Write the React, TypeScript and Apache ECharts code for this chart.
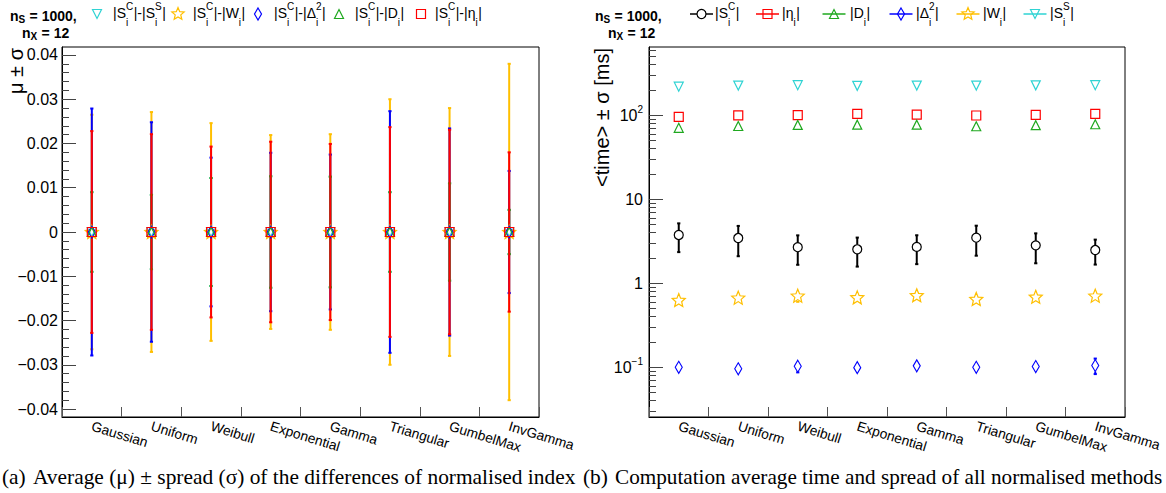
import React, { useEffect, useRef } from "react";
import * as echarts from "echarts";

// ---------------- data ----------------
const categories = ["Gaussian", "Uniform", "Weibull", "Exponential", "Gamma", "Triangular", "GumbelMax", "InvGamma"];

// (a) mean and spread of the differences of normalised index
const meanSS = [0, 0, 0, 0, 0, 0, 0, 0];
const sigmaSS = [0.0090, 0.0084, 0.0122, 0.0126, 0.0125, 0.0090, 0.0110, 0.0050];
const meanW = [0, 0, 0, 0, 0, 0, 0, 0];
const sigmaW = [0.0265, 0.0271, 0.0246, 0.0219, 0.0221, 0.0300, 0.0280, 0.0380];
const meanD2 = [0, 0, 0, 0, 0, 0, 0, 0];
const sigmaD2 = [0.0279, 0.0248, 0.0168, 0.0179, 0.0175, 0.0273, 0.0234, 0.0138];
const meanD = [0, 0, 0, 0, 0, 0, 0, 0];
const sigmaD = [0.0090, 0.0084, 0.0122, 0.0126, 0.0125, 0.0090, 0.0110, 0.0050];
const meanEta = [0, 0, 0, 0, 0, 0, 0, 0];
const sigmaEta = [0.0228, 0.0221, 0.0193, 0.0204, 0.0199, 0.0237, 0.0231, 0.0180];

// (b) computation time [ms]
const timeSC = [3.76, 3.46, 2.69, 2.54, 2.71, 3.49, 2.83, 2.49];
const timeSCsig = [1.41, 1.36, 1.03, 0.96, 1.02, 1.36, 1.10, 0.82];
const timeEta = [95.5, 100, 100.7, 104, 101.7, 99.4, 101.3, 104];
const timeEtaSig = [3, 3, 3, 3, 3, 3, 3, 3];
const timeD = [71, 74.6, 76.8, 77.3, 77.3, 74, 76.3, 78.2];
const timeDSig = [2, 2, 2, 2, 2, 2, 2, 2];
const timeD2 = [0.100, 0.096, 0.103, 0.099, 0.104, 0.100, 0.102, 0.105];
const timeD2Sig = [0.005, 0.004, 0.016, 0.005, 0.014, 0.004, 0.006, 0.022];
const timeW = [0.632, 0.674, 0.712, 0.68, 0.72, 0.65, 0.69, 0.712];
const timeWSig = [0.05, 0.05, 0.11, 0.05, 0.10, 0.05, 0.06, 0.08];
const timeSS = [219, 226, 228, 224, 226, 226, 227, 228];
const timeSSSig = [4, 4, 4, 4, 4, 4, 4, 4];

const leftTickLabels = [-0.04, -0.03, -0.02, -0.01, 0, 0.01, 0.02, 0.03, 0.04];
const rightTickLabels = [0.1, 1, 10, 100];

// ---------------- styling ----------------
const SANS = "Liberation Sans";
const SERIF = "Liberation Serif";
const C_CYAN = "#2fd3d3";
const C_YEL = "#ffbf00";
const C_BLUE = "#0000ff";
const C_GREEN = "#1fa81f";
const C_RED = "#ff0000";
const C_BLACK = "#000000";

const STAR_R = 0.45;
function starPoints(cx: number, cy: number, r: number): number[][] {
  const pts: number[][] = [];
  for (let k = 0; k < 10; k++) {
    const rr = k % 2 ? r * STAR_R : r;
    const a = ((-90 + 36 * k) * Math.PI) / 180;
    pts.push([cx + rr * Math.cos(a), cy + rr * Math.sin(a)]);
  }
  return pts;
}
const starSymbol =
  "path://M" + starPoints(10, 10, 10).map((p) => p[0].toFixed(3) + " " + p[1].toFixed(3)).join(" L") + " Z";

let measureCtx: CanvasRenderingContext2D | null = null;
function tw(t: string, size: number, bold = false): number {
  if (!measureCtx) measureCtx = document.createElement("canvas").getContext("2d");
  measureCtx!.font = `${bold ? "bold " : ""}${size}px "${SANS}"`;
  return measureCtx!.measureText(t).width;
}

function txt(x: number, y: number, t: string, size: number, bold = false, family = SANS): any {
  return {
    type: "text",
    x,
    y,
    silent: true,
    style: { text: t, fontSize: size, fontFamily: family, fontWeight: bold ? "bold" : "normal", fill: "#000", align: "left", verticalAlign: "middle" },
  };
}

type Part = { t?: string; sub?: string; sup?: string; subDy?: number };
function richLabel(x0: number, y: number, parts: Part[], fs: number, bold = false): any[] {
  const els: any[] = [];
  let x = x0;
  const ss = 10;
  for (const p of parts) {
    if (p.t !== undefined) {
      els.push(txt(x, y, p.t, fs, bold));
      x += tw(p.t, fs, bold);
    } else {
      let w = 0;
      if (p.sup) {
        els.push(txt(x, y - 6.5, p.sup, ss, bold));
        w = Math.max(w, tw(p.sup, ss, bold));
      }
      if (p.sub) {
        els.push(txt(x, y + (p.subDy ?? 10), p.sub, ss, bold));
        w = Math.max(w, tw(p.sub, ss, bold));
      }
      x += w + 0.5;
    }
  }
  return els;
}

function markerShape(kind: string, cx: number, cy: number, color: string): any {
  const style = { fill: "none", stroke: color, lineWidth: 1.2 };
  const s = 4.5;
  switch (kind) {
    case "triDown":
      return { type: "polygon", silent: true, shape: { points: [[cx - s, cy - s], [cx + s, cy - s], [cx, cy + s]] }, style };
    case "triUp":
      return { type: "polygon", silent: true, shape: { points: [[cx - s, cy + s], [cx + s, cy + s], [cx, cy - s]] }, style };
    case "diamond":
      return { type: "polygon", silent: true, shape: { points: [[cx, cy - 6], [cx + 3.5, cy], [cx, cy + 6], [cx - 3.5, cy]] }, style };
    case "square":
      return { type: "rect", silent: true, shape: { x: cx - s, y: cy - s, width: 2 * s, height: 2 * s }, style };
    case "circle":
      return { type: "circle", silent: true, shape: { cx, cy, r: s }, style: { fill: "#fff", stroke: color, lineWidth: 1.2 } };
    case "star":
      return { type: "polygon", silent: true, shape: { points: starPoints(cx, cy, 6.5) }, style };
  }
  return null;
}

function errRender(color: string, gap: number, lw: number) {
  return (params: any, api: any) => {
    const i = api.value(0);
    const c = api.coord([i, api.value(1)]);
    const hi = api.coord([i, api.value(2)]);
    const lo = api.coord([i, api.value(3)]);
    const kids: any[] = [];
    const st = { stroke: color, lineWidth: lw };
    if (c[1] - gap > hi[1]) {
      kids.push({ type: "line", shape: { x1: c[0], y1: c[1] - gap, x2: c[0], y2: hi[1] }, style: st });
      kids.push({ type: "rect", shape: { x: c[0] - 1.6, y: hi[1] - 1, width: 3.2, height: 2 }, style: { fill: color } });
    }
    if (c[1] + gap < lo[1]) {
      kids.push({ type: "line", shape: { x1: c[0], y1: c[1] + gap, x2: c[0], y2: lo[1] }, style: st });
      kids.push({ type: "rect", shape: { x: c[0] - 1.6, y: lo[1] - 1, width: 3.2, height: 2 }, style: { fill: color } });
    }
    return { type: "group", children: kids };
  };
}

type SDef = { name: string; mean: number[]; sig: number[]; color: string; symbol: string; size: any; rotate?: number; gap: number };

function buildSeries(defs: SDef[], xi: number, yi: number, logY: boolean): any[] {
  const out: any[] = [];
  const f = (v: number) => (logY ? Math.log10(v) : v);
  for (const d of defs) {
    out.push({
      type: "custom",
      name: d.name + "_err",
      xAxisIndex: xi,
      yAxisIndex: yi,
      silent: true,
      clip: false,
      renderItem: errRender(d.color, d.gap, 2),
      encode: { x: 0, y: [1, 2, 3] },
      data: d.mean.map((m, i) => [i, f(m), f(m + d.sig[i]), f(m - d.sig[i])]),
    });
    out.push({
      type: "scatter",
      name: d.name,
      xAxisIndex: xi,
      yAxisIndex: yi,
      silent: true,
      symbol: d.symbol,
      symbolSize: d.size,
      symbolRotate: d.rotate ?? 0,
      itemStyle: { color: d.symbol === "circle" ? "#ffffff" : "rgba(0,0,0,0)", borderColor: d.color, borderWidth: 1.2, opacity: 1 },
      data: d.mean.map((m, i) => [i, f(m)]),
    });
  }
  return out;
}

const leftDefs: SDef[] = [
  { name: "SS", mean: meanSS, sig: sigmaSS, color: C_CYAN, symbol: "triangle", size: 9, rotate: 180, gap: 5 },
  { name: "W", mean: meanW, sig: sigmaW, color: C_YEL, symbol: starSymbol, size: 13, gap: 5 },
  { name: "D2", mean: meanD2, sig: sigmaD2, color: C_BLUE, symbol: "diamond", size: [7, 12], gap: 5 },
  { name: "D", mean: meanD, sig: sigmaD, color: C_GREEN, symbol: "triangle", size: 9, gap: 5 },
  { name: "Eta", mean: meanEta, sig: sigmaEta, color: C_RED, symbol: "rect", size: 9, gap: 5 },
];
const rightDefs: SDef[] = [
  { name: "SC", mean: timeSC, sig: timeSCsig, color: C_BLACK, symbol: "circle", size: 9, gap: 4.5 },
  { name: "Eta", mean: timeEta, sig: timeEtaSig, color: C_RED, symbol: "rect", size: 9, gap: 4.5 },
  { name: "D", mean: timeD, sig: timeDSig, color: C_GREEN, symbol: "triangle", size: 9, gap: 4.5 },
  { name: "D2", mean: timeD2, sig: timeD2Sig, color: C_BLUE, symbol: "diamond", size: [7, 12], gap: 6 },
  { name: "W", mean: timeW, sig: timeWSig, color: C_YEL, symbol: starSymbol, size: 13, gap: 6 },
  { name: "SS", mean: timeSS, sig: timeSSSig, color: C_CYAN, symbol: "triangle", size: 9, rotate: 180, gap: 4.5 },
];

const LEFT_MIN = -0.0418;
const LEFT_MAX = 0.0418;
const RIGHT_MIN = Math.log10(0.0256);
const RIGHT_MAX = Math.log10(650);

function leftMinorTicks(): number[] {
  const v: number[] = [];
  for (let k = -20; k <= 20; k++) if (k % 5 !== 0) v.push(k * 0.002);
  return v;
}
function rightMinorTicks(): number[] {
  const v: number[] = [];
  for (let e = -2; e <= 2; e++) for (let k = 2; k <= 9; k++) {
    const l = Math.log10(k * Math.pow(10, e));
    if (l > RIGHT_MIN && l < RIGHT_MAX) v.push(l);
  }
  return v;
}

function xAxisDef(gi: number): any {
  return {
    type: "category",
    gridIndex: gi,
    data: categories,
    boundaryGap: true,
    axisLine: { show: true, onZero: false, lineStyle: { color: "#000", width: 1 } },
    axisTick: { show: true, inside: true, length: 10, interval: 0, alignWithLabel: false, lineStyle: { color: "#555", width: 1 } },
    axisLabel: { show: true, interval: 0, rotate: -17, margin: 9, fontSize: 13.8, fontFamily: SANS, color: "#000" },
    splitLine: { show: false },
  };
}

function buildLegends(): any[] {
  const els: any[] = [];
  // left panel header
  els.push(...richLabel(10, 16, [{ t: "n" }, { sub: "S", subDy: 3 }, { t: " = 1000," }], 14, true));
  els.push(...richLabel(22, 33, [{ t: "n" }, { sub: "X", subDy: 3 }, { t: " = 12" }], 14, true));
  const lItems: { kind: string; color: string; parts: Part[] }[] = [
    { kind: "triDown", color: C_CYAN, parts: [{ t: "|S" }, { sub: "i", sup: "C" }, { t: "|-|S" }, { sub: "i", sup: "S" }, { t: "|" }] },
    { kind: "star", color: C_YEL, parts: [{ t: "|S" }, { sub: "i", sup: "C" }, { t: "|-|W" }, { sub: "i" }, { t: "|" }] },
    { kind: "diamond", color: C_BLUE, parts: [{ t: "|S" }, { sub: "i", sup: "C" }, { t: "|-|\u0394" }, { sub: "i", sup: "2" }, { t: "|" }] },
    { kind: "triUp", color: C_GREEN, parts: [{ t: "|S" }, { sub: "i", sup: "C" }, { t: "|-|D" }, { sub: "i" }, { t: "|" }] },
    { kind: "square", color: C_RED, parts: [{ t: "|S" }, { sub: "i", sup: "C" }, { t: "|-|\u03b7" }, { sub: "i" }, { t: "|" }] },
  ];
  const lmx = [97, 178, 258, 339, 421];
  const ltx = [113, 193, 274, 355, 435];
  lItems.forEach((it, k) => {
    els.push(markerShape(it.kind, lmx[k], 14, it.color));
    els.push(...richLabel(ltx[k], 12.7, it.parts, 14));
  });
  // right panel header
  els.push(...richLabel(595, 16, [{ t: "n" }, { sub: "S", subDy: 3 }, { t: " = 1000," }], 14, true));
  els.push(...richLabel(608, 33, [{ t: "n" }, { sub: "X", subDy: 3 }, { t: " = 12" }], 14, true));
  const rItems: { kind: string; color: string; parts: Part[] }[] = [
    { kind: "circle", color: C_BLACK, parts: [{ t: "|S" }, { sub: "i", sup: "C" }, { t: "|" }] },
    { kind: "square", color: C_RED, parts: [{ t: "|\u03b7" }, { sub: "i" }, { t: "|" }] },
    { kind: "triUp", color: C_GREEN, parts: [{ t: "|D" }, { sub: "i" }, { t: "|" }] },
    { kind: "diamond", color: C_BLUE, parts: [{ t: "|\u0394" }, { sub: "i", sup: "2" }, { t: "|" }] },
    { kind: "star", color: C_YEL, parts: [{ t: "|W" }, { sub: "i" }, { t: "|" }] },
    { kind: "triDown", color: C_CYAN, parts: [{ t: "|S" }, { sub: "i", sup: "S" }, { t: "|" }] },
  ];
  const rmx = [701.5, 767.5, 834, 901, 968, 1035];
  const rtx = [715, 782, 850, 916, 983, 1050];
  rItems.forEach((it, k) => {
    els.push({ type: "line", silent: true, shape: { x1: rmx[k] - 11.5, y1: 14, x2: rmx[k] + 11.5, y2: 14 }, style: { stroke: it.color, lineWidth: 1.5 } });
    els.push(markerShape(it.kind, rmx[k], 14, it.color));
    els.push(...richLabel(rtx[k], 12.7, it.parts, 14));
  });
  // axis titles
  els.push({ type: "text", x: 16, y: 48, rotation: Math.PI / 2, silent: true, style: { text: "\u03bc \u00b1 \u03c3", fontSize: 20, fontFamily: SANS, fill: "#000", align: "right", verticalAlign: "middle" } });
  els.push({ type: "text", x: 602, y: 48, rotation: Math.PI / 2, silent: true, style: { text: "<time> \u00b1 \u03c3 [ms]", fontSize: 20, fontFamily: SANS, fill: "#000", align: "right", verticalAlign: "middle" } });
  // captions
  els.push(txt(2, 477, "(a)", 21.4, false, SERIF));
  els.push(txt(33, 477, "Average (\u03bc) \u00b1 spread (\u03c3) of the differences of normalised index", 21.4, false, SERIF));
  els.push(txt(583, 477, "(b)", 21.4, false, SERIF));
  els.push(txt(615, 477, "Computation average time and spread of all normalised methods", 21.2, false, SERIF));
  return els;
}

export default function App() {
  const ref = useRef<HTMLDivElement>(null);
  useEffect(() => {
    document.body.style.margin = "0";
    if (!ref.current) return;
    const chart = echarts.init(ref.current, undefined, { renderer: "svg" });
    const option: any = {
      animation: false,
      backgroundColor: "#fff",
      grid: [
        { left: 62, top: 47, width: 477, height: 370, show: true, borderColor: "#000", borderWidth: 1, backgroundColor: "transparent", containLabel: false },
        { left: 649, top: 47, width: 476, height: 370, show: true, borderColor: "#000", borderWidth: 1, backgroundColor: "transparent", containLabel: false },
      ],
      xAxis: [xAxisDef(0), xAxisDef(1)],
      yAxis: [
        {
          type: "value",
          gridIndex: 0,
          min: LEFT_MIN,
          max: LEFT_MAX,
          axisLine: { show: true, onZero: false, lineStyle: { color: "#000" } },
          axisTick: { show: true, inside: true, length: 14, customValues: leftTickLabels, lineStyle: { color: "#444" } },
          axisLabel: {
            show: true,
            customValues: leftTickLabels,
            margin: 4,
            fontSize: 16,
            fontFamily: SANS,
            color: "#000",
            formatter: (v: number) => (Math.abs(v) < 1e-9 ? "0" : (v < 0 ? "\u2212" : "") + Math.abs(v).toFixed(2)),
          },
          splitLine: { show: false },
        },
        {
          type: "value",
          gridIndex: 0,
          min: LEFT_MIN,
          max: LEFT_MAX,
          position: "left",
          axisLine: { show: false, onZero: false },
          axisTick: { show: true, inside: true, length: 7, customValues: leftMinorTicks(), lineStyle: { color: "#444" } },
          axisLabel: { show: false },
          splitLine: { show: false },
        },
        {
          type: "value",
          gridIndex: 1,
          min: RIGHT_MIN,
          max: RIGHT_MAX,
          axisLine: { show: true, onZero: false, lineStyle: { color: "#000" } },
          axisTick: { show: true, inside: true, length: 14, customValues: rightTickLabels.map((v) => Math.log10(v)), lineStyle: { color: "#444" } },
          axisLabel: {
            show: true,
            customValues: rightTickLabels.map((v) => Math.log10(v)),
            margin: 6,
            fontFamily: SANS,
            color: "#000",
            formatter: (v: number) => {
              const e = Math.round(v);
              if (e === 0) return "{b|1}";
              if (e === 1) return "{b|10}";
              return "{b|10}{s|" + (e < 0 ? "\u2212" + Math.abs(e) : String(e)) + "}";
            },
            rich: {
              b: { fontSize: 16, fontFamily: SANS, color: "#000", lineHeight: 16, verticalAlign: "bottom" },
              s: { fontSize: 10, fontFamily: SANS, color: "#000", lineHeight: 10, verticalAlign: "bottom", padding: [0, 0, 9, 0] },
            },
          },
          splitLine: { show: false },
        },
        {
          type: "value",
          gridIndex: 1,
          min: RIGHT_MIN,
          max: RIGHT_MAX,
          position: "left",
          axisLine: { show: false, onZero: false },
          axisTick: { show: true, inside: true, length: 7, customValues: rightMinorTicks(), lineStyle: { color: "#444" } },
          axisLabel: { show: false },
          splitLine: { show: false },
        },
      ],
      series: [...buildSeries(leftDefs, 0, 0, false), ...buildSeries(rightDefs, 1, 2, true)],
      graphic: { elements: buildLegends() },
    };
    chart.setOption(option);
    return () => chart.dispose();
  }, []);
  return <div ref={ref} style={{ width: 1166, height: 493 }} />;
}
